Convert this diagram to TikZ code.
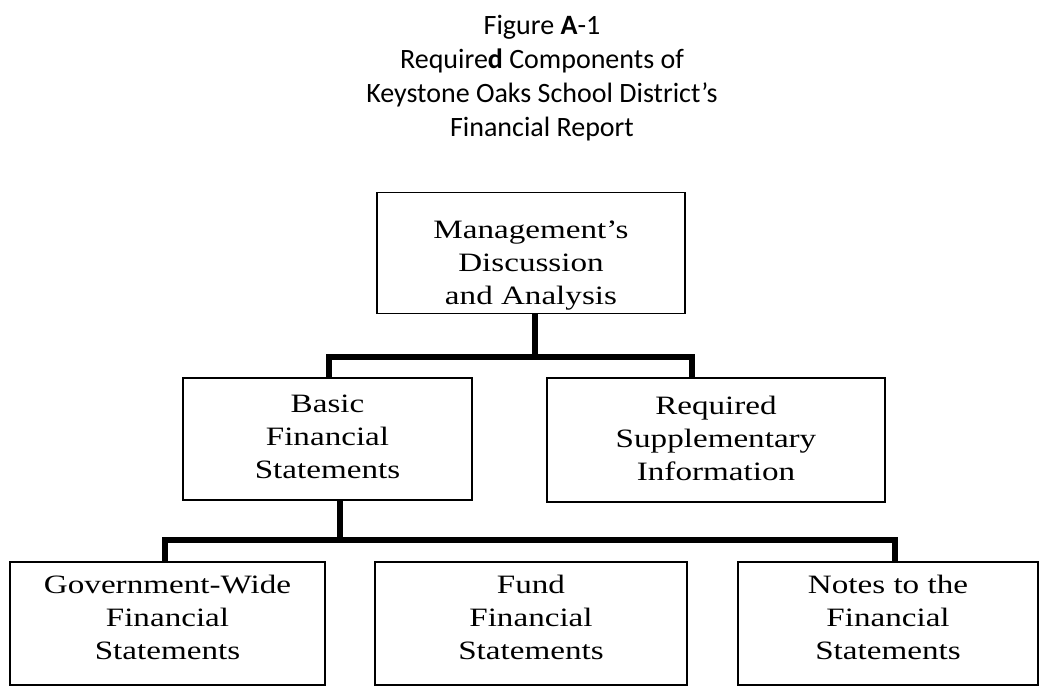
\documentclass[tikz,border=0pt]{standalone}
\usepackage{fontspec}
\setmainfont{Liberation Serif}[FakeStretch=1.25]
\newfontfamily\titlefont{Carlito}
\begin{document}
\begin{tikzpicture}[x=1pt,y=-1pt,
  box/.style={draw, line width=1.8pt, rectangle, inner sep=0pt},
  btxt/.style={align=center, inner sep=0pt, font=\fontsize{26.5}{33}\selectfont},
  conn/.style={line width=6pt, line cap=butt, line join=miter},
  ttl/.style={align=center, font=\titlefont\fontsize{28}{34}\selectfont, inner sep=0pt}]
\useasboundingbox (0,0) rectangle (1039,686);
\node[ttl] (title) at (542,78) {Figure \textbf{A}-1\\Require\textbf{d} Components of\\Keystone Oaks School District’s\\Financial Report};
\node[box, minimum width=308pt, minimum height=121pt,
  label={[btxt, yshift=-13pt]center:Management’s\\Discussion\\and Analysis}] (mda) at (531,253) {};
\node[box, minimum width=289pt, minimum height=122pt,
  label={[btxt, yshift=2pt]center:Basic\\Financial\\Statements}] (bfs) at (327.5,439) {};
\node[box, minimum width=338pt, minimum height=124pt,
  label={[btxt, yshift=2pt]center:Required\\Supplementary\\Information}] (rsi) at (716,440) {};
\node[box, minimum width=315pt, minimum height=123pt,
  label={[btxt, yshift=6pt]center:Government-Wide\\Financial\\Statements}] (gov) at (167.5,623.5) {};
\node[box, minimum width=312pt, minimum height=123pt,
  label={[btxt, yshift=6pt]center:Fund\\Financial\\Statements}] (fund) at (531,623.5) {};
\node[box, minimum width=300pt, minimum height=123pt,
  label={[btxt, yshift=6pt]center:Notes to the\\Financial\\Statements}] (notes) at (888,623.5) {};
\coordinate (j1) at (535,357);
\coordinate (j2) at (340,540);
\coordinate (mdaOut) at (535,314);
\coordinate (bfsIn) at (329,378);
\coordinate (rsiIn) at (692,378);
\coordinate (bfsOut) at (340,500);
\coordinate (govIn) at (165,562);
\coordinate (fundIn) at (527,562);
\coordinate (notesIn) at (895,562);
\draw[conn] (mda.south -| mdaOut) -- (j1);
\draw[conn] (bfs.north -| bfsIn) |- (j1) -| (rsi.north -| rsiIn);
\draw[conn] (bfs.south -| bfsOut) -- (j2);
\draw[conn] (gov.north -| govIn) |- (j2) -| (notes.north -| notesIn);
\draw[conn] (fund.north -| fundIn) -- (fund.north -| fundIn |- j2);
\end{tikzpicture}
\end{document}
